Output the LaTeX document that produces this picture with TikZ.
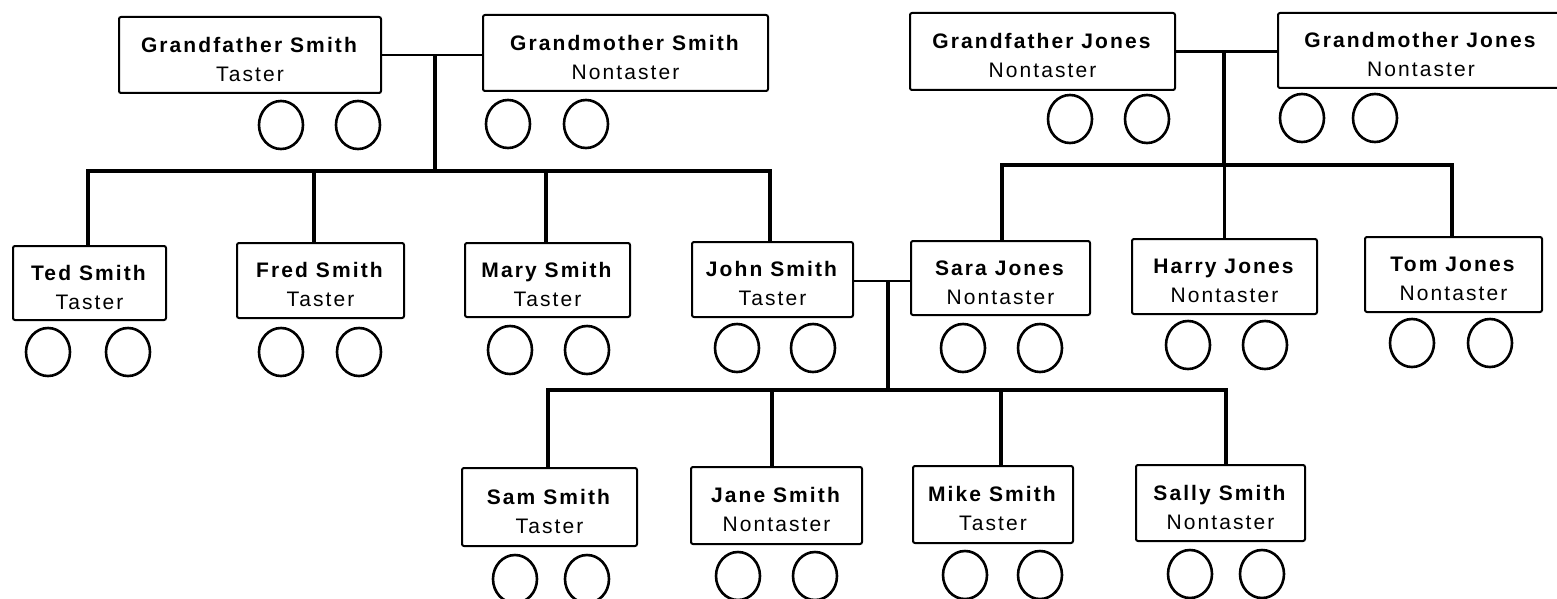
\documentclass[tikz,border=0pt]{standalone}
\usepackage{fontspec}
\setmainfont{Liberation Sans}[LetterSpace=10]
\usetikzlibrary{shapes.geometric}
\tikzset{
  person/.style={draw, line width=2pt, rounded corners=2pt, align=center,
    font=\fontsize{21}{29}\selectfont, inner sep=0pt},
  allele/.style={draw, ellipse, line width=2.6pt, minimum width=44pt, minimum height=48pt, inner sep=0pt},
  wed/.style={line width=2.6pt},
  link/.style={line width=3.4pt}
}
\newcommand{\pbox}[6]{\node[person, minimum width=#4pt, minimum height=#5pt] (#1) at (#2,#3) {\rule{0pt}{24pt}#6};}
\begin{document}
\begin{tikzpicture}[x=1pt,y=-1pt]
\useasboundingbox (0,0) rectangle (1557,599);
% grandparents
\pbox{gfs}{250}{55}{262}{76}{\textbf{Grandfather Smith}\\Taster}
\pbox{gms}{625.5}{53}{285}{76}{\textbf{Grandmother Smith}\\Nontaster}
\pbox{gfj}{1042.5}{51.5}{265}{77}{\textbf{Grandfather Jones}\\Nontaster}
\pbox{gmj}{1421}{50.5}{286}{75}{\textbf{Grandmother Jones}\\Nontaster}
% children
\pbox{ted}{89.5}{283}{153}{74}{\textbf{Ted Smith}\\Taster}
\pbox{fred}{320.5}{280.5}{167}{75}{\textbf{Fred Smith}\\Taster}
\pbox{mary}{547.5}{280}{165}{74}{\textbf{Mary Smith}\\Taster}
\pbox{john}{772.5}{279.5}{161}{75}{\textbf{John Smith}\\Taster}
\pbox{sara}{1000.5}{278}{179}{74}{\textbf{Sara Jones}\\Nontaster}
\pbox{harry}{1224.5}{276.5}{185}{75}{\textbf{Harry Jones}\\Nontaster}
\pbox{tom}{1453.5}{274.5}{177}{75}{\textbf{Tom Jones}\\Nontaster}
% grandchildren
\pbox{sam}{549.5}{507}{175}{78}{\textbf{Sam Smith}\\Taster}
\pbox{jane}{776.5}{505.5}{171}{77}{\textbf{Jane Smith}\\Nontaster}
\pbox{mike}{993}{504.5}{160}{77}{\textbf{Mike Smith}\\Taster}
\pbox{sally}{1220.5}{503}{169}{76}{\textbf{Sally Smith}\\Nontaster}
% allele circles
\foreach \n/\a/\b/\y in {gfs/281/358/125, gms/508/586/124, gfj/1070/1147/119, gmj/1302/1375/118,
  ted/48/128/352, fred/281/359/352, mary/510/587/350, john/737/813/348, sara/963/1040/348,
  harry/1188/1265/345, tom/1412/1490/343, sam/515/587/579, jane/738/815/576,
  mike/965/1040/575, sally/1190/1262/574}{
  \node[allele] (\n a) at (\a,\y) {};
  \node[allele] (\n b) at (\b,\y) {};
}
% Smith family
\coordinate (smw) at (435,55);
\coordinate (smb) at (435,171);
\draw[wed] (gfs.east) -- (gfs.east -| gms.west);
\draw[link] (smw) -- (smb);
\draw[link] ([xshift=-1.5pt]ted.north) |- ([xshift=-2.5pt]john.north |- smb) -- ([xshift=-2.5pt]john.north);
\draw[link] ([xshift=-6.5pt]fred.north) -- ([xshift=-6.5pt]fred.north |- smb);
\draw[link] ([xshift=-1.5pt]mary.north) -- ([xshift=-1.5pt]mary.north |- smb);
% Jones family
\coordinate (jnw) at (1224,51);
\coordinate (jnb) at (1224,165);
\draw[wed] (gfj.east) -- (gfj.east -| gmj.west);
\draw[link] (jnw) -- (jnb);
\draw[link] ([xshift=1.5pt]sara.north) |- ([xshift=-1.5pt]tom.north |- jnb) -- ([xshift=-1.5pt]tom.north);
\draw[link] (harry.north) -- (harry.north |- jnb);
% John + Sara
\coordinate (jsw) at (888,281);
\coordinate (jsb) at (888,390);
\draw[wed] (john.east |- jsw) -- (jsw -| sara.west);
\draw[link] (jsw) -- (jsb);
\draw[link] ([xshift=-1.5pt]sam.north) |- ([xshift=5.5pt]sally.north |- jsb) -- ([xshift=5.5pt]sally.north);
\draw[link] ([xshift=-4.5pt]jane.north) -- ([xshift=-4.5pt]jane.north |- jsb);
\draw[link] ([xshift=8pt]mike.north) -- ([xshift=8pt]mike.north |- jsb);
\end{tikzpicture}
\end{document}
